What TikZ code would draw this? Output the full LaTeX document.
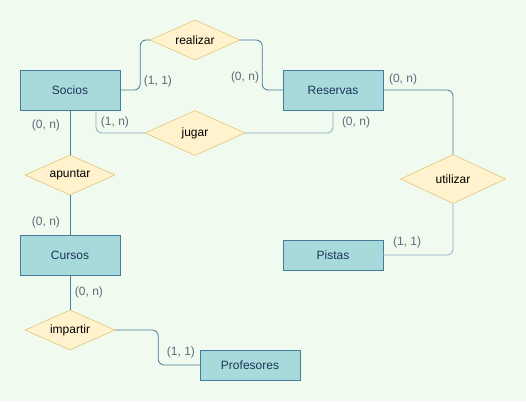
\documentclass[tikz,border=0pt]{standalone}
\usepackage{fontspec}
\setmainfont{Liberation Sans}
\usetikzlibrary{shapes.geometric}
\definecolor{bgcol}{HTML}{F1FAEE}
\definecolor{entfill}{HTML}{A8DADC}
\definecolor{entline}{HTML}{457B9D}
\definecolor{relfill}{HTML}{FFF2CC}
\definecolor{relline}{HTML}{D6B656}
\definecolor{edgelight}{HTML}{88AFC6}
\definecolor{cardtext}{HTML}{5B6B7C}
\definecolor{enttext}{HTML}{1D3557}
\begin{document}
\begin{tikzpicture}[x=1pt, y=-1pt, font=\fontsize{12}{14}\selectfont,
    entity/.style = {draw=entline, fill=entfill, text=enttext, minimum width=100pt, minimum height=40pt, inner sep=0pt},
    relation/.style = {draw=relline, fill=relfill, diamond, aspect=2.25, minimum width=90pt, minimum height=40pt, inner sep=0pt},
    link/.style = {draw=entline, rounded corners=6pt, line width=0.8pt},
    linkl/.style = {draw=edgelight, rounded corners=6pt, line width=0.8pt},
    card/.style = {text=cardtext}]
            \fill[bgcol] (0,0) rectangle (526,401);
            \useasboundingbox (0,0) rectangle (526,401);

            \node[entity] (Socios) at (70,90) {Socios};
            \node[entity] (Reservas) at (333,90) {Reservas};
            \node[entity] (Cursos) at (70,255) {Cursos};
            \node[entity, minimum height=30pt] (Pistas) at (333,255) {Pistas};
            \node[entity, minimum height=30pt] (Profesores) at (250,365) {Profesores};

            \node[relation] (realizar) at (195,40) {realizar};
            \node[relation, minimum width=100pt, minimum height=45pt] (jugar) at (195,133) {jugar};
            \node[relation] (apuntar) at (70,175) {apuntar};
            \node[relation, minimum width=105pt, minimum height=49pt] (utilizar) at (453,179) {utilizar};
            \node[relation] (impartir) at (70,330) {impartir};

            % Socios - realizar - Reservas
            \path[link] (Socios.east) -- ++(20,0) |- (realizar.west);
            \path[link] (realizar.east) -- ++(22,0) |- (Reservas.west);
            \node[card] (c1) at (158,81) {(1, 1)};
            \node[card] (c2) at (245,77) {(0, n)};

            % Socios - jugar - Reservas
            \path[linkl] ([xshift=26pt]Socios.south) |- (jugar.west);
            \path[linkl] (jugar.east) -| (Reservas.south);
            \node[card] (c3) at (115,122) {(1, n)};
            \node[card] (c4) at (356,122) {(0, n)};

            % Reservas - utilizar - Pistas
            \path[link] (Reservas.east) -| (utilizar.north);
            \path[linkl] (utilizar.south) |- (Pistas.east);
            \node[card] (c5) at (403,79) {(0, n)};
            \node[card] (c6) at (407,242) {(1, 1)};

            % Socios - apuntar - Cursos
            \path[link] (Socios.south) -- (apuntar.north);
            \path[link] (apuntar.south) -- (Cursos.north);
            \node[card] (c7) at (46,125) {(0, n)};
            \node[card] (c8) at (46,222) {(0, n)};

            % Cursos - impartir - Profesores
            \path[link] (Cursos.south) -- (impartir.north);
            \path[link] (impartir.east) -- ++(43,0) |- (Profesores.west);
            \node[card] (c9) at (89,292) {(0, n)};
            \node[card] (c10) at (181,352) {(1, 1)};
\end{tikzpicture}
\end{document}
